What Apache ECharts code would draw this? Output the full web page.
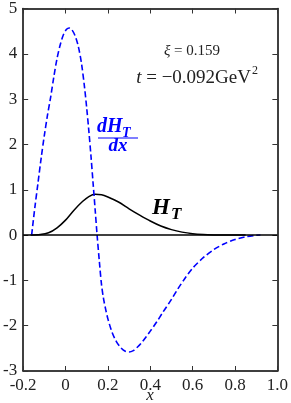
<!DOCTYPE html>
<html><head><meta charset="utf-8">
<script src="https://cdn.jsdelivr.net/npm/echarts@6/dist/echarts.min.js"></script>
<style>html,body{margin:0;padding:0;background:#fff}#c{width:291px;height:403px}</style>
</head><body><div id="c"></div>
<script>
// ---- data ----
var xTickLabels = ['-0.2','0','0.2','0.4','0.6','0.8','1.0'];
var yTickLabels = ['-3','-2','-1','0','1','2','3','4','5'];

var htX = [-0.165,-0.12,-0.08,-0.04,0.0,0.04,0.08,0.11,0.14,0.17,0.2,0.25,0.3,0.35,0.4,0.45,0.5,0.55,0.6,0.65,0.7,0.75,0.8,0.85];
var htY = [0,0.01,0.05,0.16,0.33,0.55,0.74,0.85,0.9,0.89,0.84,0.73,0.58,0.44,0.31,0.2,0.12,0.065,0.03,0.012,0.004,0.001,0,0];

var dhX = [-0.16,-0.145,-0.13,-0.115,-0.1,-0.085,-0.07,-0.055,-0.04,-0.025,-0.01,0.005,0.017,0.03,0.045,0.06,0.075,0.09,0.1,0.11,0.12,0.13,0.14,0.149,0.16,0.17,0.18,0.19,0.2,0.22,0.24,0.26,0.28,0.3,0.32,0.34,0.36,0.38,0.4,0.43,0.46,0.5,0.53,0.56,0.6,0.65,0.7,0.75,0.8,0.85,0.9,0.92];
var dhY = [0,0.6,1.15,1.7,2.2,2.65,3.05,3.5,3.9,4.2,4.42,4.54,4.57,4.53,4.4,4.17,3.8,3.25,2.8,2.3,1.75,1.15,0.55,0,-0.6,-1.1,-1.42,-1.65,-1.85,-2.15,-2.35,-2.48,-2.56,-2.58,-2.55,-2.47,-2.37,-2.25,-2.12,-1.92,-1.7,-1.42,-1.19,-0.98,-0.73,-0.5,-0.32,-0.19,-0.1,-0.04,-0.005,0];

function pairs(xs, ys){ return xs.map(function(x,i){return [x, ys[i]];}); }

var chart = echarts.init(document.getElementById('c'), null, {renderer:'canvas'});
var SERIF = '"Liberation Serif","DejaVu Serif",serif';
var labelStyle = {fontFamily: SERIF, fontSize: 17, color: '#222'};
var axLine = {show:true, onZero:false, lineStyle:{color:'#000', width:1.5}};
var ticks = {show:true, inside:true, length:5, lineStyle:{color:'#333', width:1}};

chart.setOption({
  animation:false,
  grid:{left:22, right:10, top:5, bottom:32, containLabel:false},
  xAxis:[
    {type:'value', min:-0.2, max:1.0, interval:0.2, position:'bottom',
     axisLine:axLine, axisTick:ticks, splitLine:{show:false},
     axisLabel:Object.assign({margin:6, formatter:function(v,i){return xTickLabels[i];}}, labelStyle)},
    {type:'value', min:-0.2, max:1.0, interval:0.2, position:'top',
     axisLine:axLine, axisTick:ticks, splitLine:{show:false}, axisLabel:{show:false}}
  ],
  yAxis:[
    {type:'value', min:-3, max:5, interval:1, position:'left',
     axisLine:axLine, axisTick:ticks, splitLine:{show:false},
     axisLabel:Object.assign({margin:6, formatter:function(v,i){return yTickLabels[i];}}, labelStyle)},
    {type:'value', min:-3, max:5, interval:1, position:'right',
     axisLine:axLine, axisTick:ticks, splitLine:{show:false}, axisLabel:{show:false}}
  ],
  series:[
    {type:'line', data:pairs(htX, htY), smooth:0.3, symbol:'none',
     lineStyle:{color:'#000', width:1.5},
     markLine:{silent:true, symbol:'none', label:{show:false},
       lineStyle:{color:'#000', width:1.5, type:'solid'}, data:[{yAxis:0}]}},
    {type:'line', data:pairs(dhX, dhY), smooth:0.3, symbol:'none',
     lineStyle:{color:'#0000ff', width:1.6, type:[6,3]}}
  ],
  graphic:[
    {type:'text', x:192, y:51, style:{text:'{i|ξ} = 0.159', rich:{i:{fontStyle:'italic', fontFamily:SERIF, fontSize:15}}, fontFamily:SERIF, fontSize:15, fill:'#222', align:'center', verticalAlign:'middle'}},
    {type:'text', x:251, y:78, style:{text:'{i|t} = −0.092GeV', rich:{i:{fontStyle:'italic', fontFamily:SERIF, fontSize:19}}, fontFamily:SERIF, fontSize:19, fill:'#222', align:'right', verticalAlign:'middle'}},
    {type:'text', x:252, y:71, style:{text:'2', fontFamily:SERIF, fontSize:12, fill:'#222', align:'left', verticalAlign:'middle'}},
    {type:'text', x:97, y:127, style:{text:'dH', fontFamily:SERIF, fontSize:20, fontStyle:'italic', fontWeight:'bold', fill:'#0000ff', align:'left', verticalAlign:'middle'}},
    {type:'text', x:122, y:133, style:{text:'T', fontFamily:SERIF, fontSize:14, fontStyle:'italic', fontWeight:'bold', fill:'#0000ff', align:'left', verticalAlign:'middle'}},
    {type:'line', shape:{x1:98, y1:138, x2:138, y2:138}, style:{stroke:'#0000ff', lineWidth:1.2}},
    {type:'text', x:118, y:146, style:{text:'dx', fontFamily:SERIF, fontSize:19, fontStyle:'italic', fontWeight:'bold', fill:'#0000ff', align:'center', verticalAlign:'middle'}},
    {type:'text', x:152, y:208, style:{text:'H', fontFamily:SERIF, fontSize:23, fontStyle:'italic', fontWeight:'bold', fill:'#000', align:'left', verticalAlign:'middle'}},
    {type:'text', x:171, y:215, style:{text:'T', fontFamily:SERIF, fontSize:17, fontStyle:'italic', fontWeight:'bold', fill:'#000', align:'left', verticalAlign:'middle'}},
    {type:'text', x:150, y:396, style:{text:'x', fontFamily:SERIF, fontSize:17, fontStyle:'italic', fill:'#222', align:'center', verticalAlign:'middle'}}
  ]
});
</script></body></html>
